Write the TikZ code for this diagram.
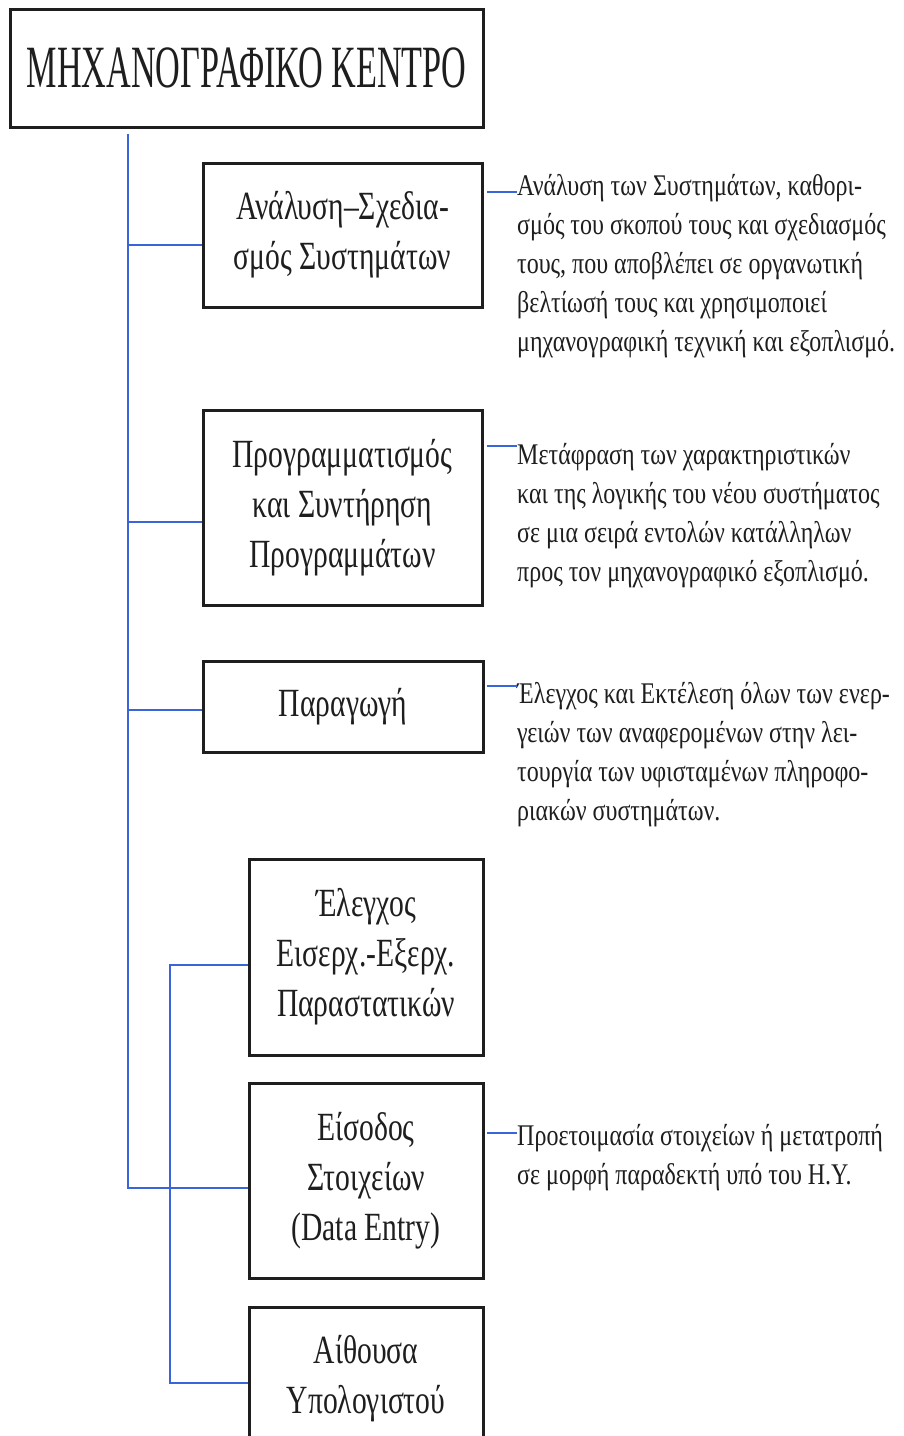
\documentclass[tikz,border=0pt]{standalone}
\usepackage{fontspec}
\setmainfont{Liberation Serif}
\newfontfamily\titlefont[FakeStretch=0.57]{Liberation Serif}
\newfontfamily\boxfont[FakeStretch=0.74]{Liberation Serif}
\newfontfamily\notefont[FakeStretch=0.8]{Liberation Serif}
\definecolor{linkblue}{RGB}{58,100,218}
\definecolor{ink}{RGB}{30,30,30}
\begin{document}
\begin{tikzpicture}[x=1pt,y=-1pt,
  unit box/.style={draw=ink, line width=3pt, inner sep=0pt, align=center, text=ink,
    font=\boxfont\fontsize{40}{50}\selectfont},
  branch/.style={draw=linkblue, line width=2.6pt},
  lead/.style={draw=linkblue, line width=1.5pt},
  note/.style={anchor=north west, inner sep=0pt, align=left, text=ink,
    font=\notefont\fontsize{30}{39}\selectfont}]
\useasboundingbox (0,0) rectangle (904,1436);
\fill[white] (0,0) rectangle (904,1436);

% organisation units
\node[unit box, minimum width=473pt, minimum height=118pt,
  font=\titlefont\fontsize{60}{70}\selectfont] (title) at (246.5,68) {ΜΗΧΑΝΟΓΡΑΦΙΚΟ ΚΕΝΤΡΟ};
\node[unit box, minimum width=279pt, minimum height=144pt] (b1) at (342.5,235)
  {Ανάλυση–Σχεδια-\\σμός Συστημάτων};
\node[unit box, minimum width=279pt, minimum height=195pt] (b2) at (342.5,507.5)
  {Προγραμματισμός\\και Συντήρηση\\Προγραμμάτων};
\node[unit box, minimum width=280pt, minimum height=91pt] (b3) at (343,706.5)
  {Παραγωγή};
\node[unit box, minimum width=234pt, minimum height=196pt] (b4) at (366,957)
  {Έλεγχος\\Εισερχ.-Εξερχ.\\Παραστατικών};
\node[unit box, minimum width=234pt, minimum height=195pt] (b5) at (366,1180.5)
  {Είσοδος\\Στοιχείων\\(Data Entry)};
\node[unit box, minimum width=234pt, minimum height=143pt] (b6) at (366,1378.5)
  {Αίθουσα\\Υπολογιστού};

% descriptions
\node[note] (d1) at (517,167.7) {\strut Ανάλυση των Συστημάτων, καθορι-\\σμός του σκοπού τους και σχεδιασμός\\τους, που αποβλέπει σε οργανωτική\\βελτίωσή τους και χρησιμοποιεί\\μηχανογραφική τεχνική και εξοπλισμό.};
\node[note] (d2) at (517,436.7) {\strut Μετάφραση των χαρακτηριστικών\\και της λογικής του νέου συστήματος\\σε μια σειρά εντολών κατάλληλων\\προς τον μηχανογραφικό εξοπλισμό.};
\node[note] (d3) at (517,675.7) {\strut Έλεγχος και Εκτέλεση όλων των ενερ-\\γειών των αναφερομένων στην λει-\\τουργία των υφισταμένων πληροφο-\\ριακών συστημάτων.};
\node[note] (d4) at (517,1117.7) {\strut Προετοιμασία στοιχείων ή μετατροπή\\σε μορφή παραδεκτή υπό του Η.Υ.};

% main branch line
\coordinate (top) at (128,134);
\coordinate (j1) at (128,245);
\coordinate (j2) at (128,522);
\coordinate (j3) at (128,710);
\coordinate (j5) at (128,1188);
\draw[branch] (top) -- (j5) -- (j5 -| b5.west);
\draw[branch] (j1) -- (j1 -| b1.west);
\draw[branch] (j2) -- (j2 -| b2.west);
\draw[branch] (j3) -- (j3 -| b3.west);

% secondary branch line
\coordinate (k4) at (170,965);
\coordinate (k6) at (170,1383);
\draw[branch] (k4 -| b4.west) -- (k4) -- (k6) -- (k6 -| b6.west);

% short leaders to the descriptions
\coordinate (l1) at (487,192);
\coordinate (l2) at (487,446);
\coordinate (l3) at (487,686);
\coordinate (l4) at (487,1133);
\draw[lead] (l1) -- (l1 -| d1.west);
\draw[lead] (l2) -- (l2 -| d2.west);
\draw[lead] (l3) -- (l3 -| d3.west);
\draw[lead] (l4) -- (l4 -| d4.west);
\end{tikzpicture}
\end{document}
